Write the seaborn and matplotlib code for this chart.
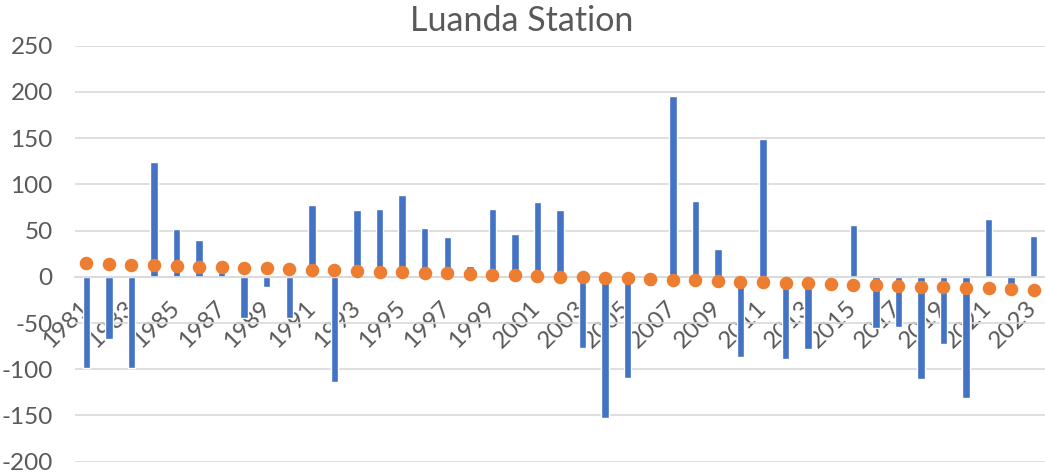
"""
Luanda Station - annual anomaly bars with linear trend dots.
"""

import numpy as np
import pandas as pd
import matplotlib
matplotlib.use("Agg")
import matplotlib.pyplot as plt
import seaborn as sns

# Data
years = [str(y) for y in range(1981, 2024)]
anomaly = [
    -99, -67, -99, 124.5, 52, 40, 5, -45, -11.5, -45,
    78, -114, 72.5, 73, 88.5, 53, 42.5, 12, 73.5, 46,
    81, 72, -76.5, -153, -109, -10, 196, 82, 30.5, -86.5,
    149, -88.5, -78, -5, 55.5, -55, -54, -111, -73, -131,
    63, -16, 44.5,
]
trend = [
    14.4, 13.7, 13.1, 12.4, 11.7, 11.0, 10.4, 9.7, 9.0, 8.3,
    7.7, 7.0, 6.3, 5.6, 5.0, 4.3, 3.6, 2.9, 2.3, 1.6,
    0.9, 0.2, -0.4, -1.1, -1.8, -2.5, -3.1, -3.8, -4.5, -5.2,
    -5.8, -6.5, -7.2, -7.9, -8.5, -9.2, -9.9, -10.6, -11.2, -11.9,
    -12.6, -13.3, -13.9,
]
y_ticks = [-200, -150, -100, -50, 0, 50, 100, 150, 200, 250]

BAR_COLOR = "#4472C4"
DOT_COLOR = "#ED7D31"
TEXT_COLOR = "#595959"
GRID_COLOR = "#D9D9D9"

sns.set_theme(style="white")
plt.rcParams["font.family"] = ["Lato", "DejaVu Sans"]

df = pd.DataFrame({"year": years, "anomaly": anomaly, "trend": trend})

fig = plt.figure(figsize=(10.45, 4.75), dpi=100)
ax = fig.add_axes([0.0718, 0.028, 0.9282, 0.876])

sns.barplot(data=df, x="year", y="anomaly", color=BAR_COLOR, width=0.33,
            saturation=1, ax=ax, zorder=2)
sns.pointplot(data=df, x="year", y="trend", color=DOT_COLOR, linestyle="none",
              markers="o", markersize=7.7, ax=ax, zorder=3)

# x axis crosses at zero (do this before styling ticks: it resets them)
for side in ["top", "right", "left"]:
    ax.spines[side].set_visible(False)
ax.spines["bottom"].set_position(("data", 0))
ax.spines["bottom"].set_color(GRID_COLOR)
ax.spines["bottom"].set_linewidth(1.2)

ax.set_ylim(-200, 250)
ax.set_xlim(-0.5, len(years) - 0.5)
ax.tick_params(axis="both", length=0)
ax.tick_params(axis="x", pad=20)
ax.tick_params(axis="y", pad=16)

ax.set_yticks(y_ticks)
ax.set_yticklabels([str(v) for v in y_ticks], fontsize=17.5, color=TEXT_COLOR)
ax.yaxis.grid(True, color=GRID_COLOR, linewidth=1.2, zorder=0)
ax.set_axisbelow(True)

idx = list(range(0, len(years), 2))
ax.set_xticks(idx)
ax.set_xticklabels([years[i] for i in idx], fontsize=17.5, color=TEXT_COLOR)
plt.setp(ax.get_xticklabels(), rotation=45, ha="right", va="center",
         rotation_mode="anchor")

ax.set_xlabel("")
ax.set_ylabel("")
fig.text(0.4995, 0.955, "Luanda Station", ha="center", va="center",
         fontsize=24.5, color=TEXT_COLOR)

fig.savefig("out.png", dpi=100)
